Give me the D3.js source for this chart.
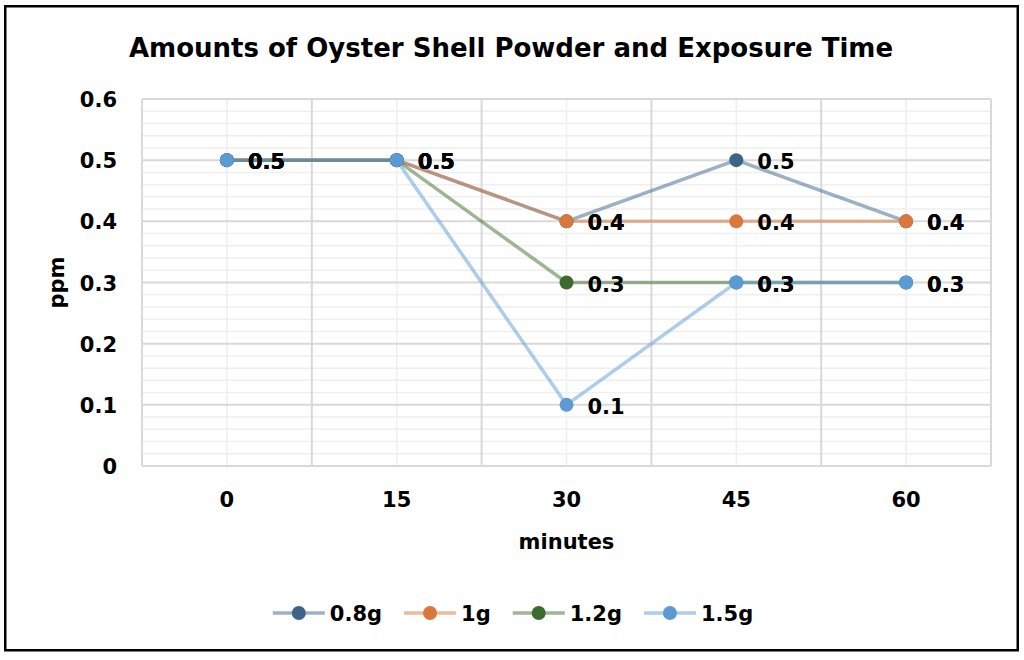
<!DOCTYPE html>
<html lang="en">
<head>
  <meta charset="UTF-8">
  <title>Amounts of Oyster Shell Powder and Exposure Time</title>
  <style>
    body { margin: 0; background: #fff; }
    svg text { font-family: "DejaVu Sans", "Liberation Sans", Arial, sans-serif; font-weight: bold; fill: #000; }
    .tick line { display: none; }
    .domain { display: none; }
  </style>
</head>
<body>
  <div class="warp"></div>
  <script src="https://cdn.jsdelivr.net/npm/d3@7"></script>
  <script>
    // data
    var minutes = ['0', '15', '30', '45', '60'];
    var seriesNames = ['0.8g', '1g', '1.2g', '1.5g'];
    var vals08 = [0.5, 0.5, 0.4, 0.5, 0.4];
    var vals1 = [0.5, 0.5, 0.4, 0.4, 0.4];
    var vals12 = [0.5, 0.5, 0.3, 0.3, 0.3];
    var vals15 = [0.5, 0.5, 0.1, 0.3, 0.3];
    var yTicks = [0, 0.1, 0.2, 0.3, 0.4, 0.5, 0.6];
    var colors = ['#3c6489', '#d9773d', '#3d6b2e', '#5b9bd5'];

    var series = seriesNames.map(function (name, i) {
      return { name: name, values: [vals08, vals1, vals12, vals15][i], color: colors[i] };
    });

    var W = 1024, H = 660;
    var plot = { left: 142, right: 991, top: 99, bottom: 466 };

    var svg = d3.select('.warp').append('svg')
      .attr('width', W)
      .attr('height', H);

    // outer frame
    svg.append('rect')
      .attr('x', 5.25).attr('y', 6.25)
      .attr('width', 1012.5).attr('height', 644)
      .attr('fill', '#fff')
      .attr('stroke', '#000')
      .attr('stroke-width', 2.5);

    var x = d3.scaleBand().domain(minutes).range([plot.left, plot.right]).padding(0);
    var y = d3.scaleLinear().domain([0, 0.6]).range([plot.bottom, plot.top]);
    var cx = function (m) { return x(m) + x.bandwidth() / 2; };

    // grid
    var grid = svg.append('g');
    var minor = d3.range(0, 0.6001, 0.02).filter(function (v) { return Math.abs(v * 10 - Math.round(v * 10)) > 1e-6; });
    grid.selectAll('line.hminor').data(minor).enter().append('line')
      .attr('x1', plot.left).attr('x2', plot.right)
      .attr('y1', d => y(d)).attr('y2', d => y(d))
      .attr('stroke', '#efefef').attr('stroke-width', 1.5);
    grid.selectAll('line.vminor').data(minutes).enter().append('line')
      .attr('x1', d => cx(d)).attr('x2', d => cx(d))
      .attr('y1', plot.top).attr('y2', plot.bottom)
      .attr('stroke', '#efefef').attr('stroke-width', 1.5);
    grid.selectAll('line.hmajor').data(yTicks).enter().append('line')
      .attr('x1', plot.left).attr('x2', plot.right)
      .attr('y1', d => y(d)).attr('y2', d => y(d))
      .attr('stroke', '#d9d9d9').attr('stroke-width', 2);
    var edges = minutes.map(function (m) { return x(m); }).concat([plot.right]);
    grid.selectAll('line.vmajor').data(edges).enter().append('line')
      .attr('x1', d => d).attr('x2', d => d)
      .attr('y1', plot.top).attr('y2', plot.bottom)
      .attr('stroke', '#d9d9d9').attr('stroke-width', 2);

    // axes
    svg.append('g')
      .attr('transform', 'translate(' + plot.left + ',0)')
      .call(d3.axisLeft(y).tickValues(yTicks).tickSize(0).tickPadding(25).tickFormat(d3.format('')))
      .selectAll('text')
      .style('font-size', '21px')
      .attr('dy', '0.36em');

    svg.append('g')
      .attr('transform', 'translate(0,' + plot.bottom + ')')
      .call(d3.axisBottom(x).tickSize(0).tickPadding(26))
      .selectAll('text')
      .style('font-size', '21px');

    // lines
    var line = d3.line()
      .x(function (d, i) { return cx(minutes[i]); })
      .y(function (d) { return y(d); });

    svg.append('g').selectAll('path').data(series).enter().append('path')
      .attr('d', d => line(d.values))
      .attr('fill', 'none')
      .attr('stroke', d => d.color)
      .attr('stroke-opacity', 0.5)
      .attr('stroke-width', 3.5);

    // markers + labels
    series.forEach(function (s) {
      svg.append('g').selectAll('circle').data(s.values).enter().append('circle')
        .attr('cx', (d, i) => cx(minutes[i]))
        .attr('cy', d => y(d))
        .attr('r', 7)
        .attr('fill', s.color);
    });
    series.forEach(function (s) {
      svg.append('g').selectAll('text').data(s.values).enter().append('text')
        .attr('x', (d, i) => cx(minutes[i]) + 21)
        .attr('y', d => y(d) + 9)
        .style('font-size', '21px')
        .text(d => d);
    });

    // title
    svg.append('text')
      .attr('x', 511).attr('y', 57)
      .attr('text-anchor', 'middle')
      .style('font-size', '26px')
      .text('Amounts of Oyster Shell Powder and Exposure Time');

    // axis titles
    svg.append('text')
      .attr('x', (plot.left + plot.right) / 2).attr('y', 549)
      .attr('text-anchor', 'middle')
      .style('font-size', '21px')
      .text('minutes');
    svg.append('text')
      .attr('transform', 'translate(64,' + ((plot.top + plot.bottom) / 2) + ') rotate(-90)')
      .attr('text-anchor', 'middle')
      .style('font-size', '21px')
      .text('ppm');

    // legend
    var legend = svg.append('g');
    var items = legend.selectAll('g').data(series).enter().append('g');
    items.append('line')
      .attr('x1', 0).attr('x2', 52).attr('y1', 0).attr('y2', 0)
      .attr('stroke', d => d.color).attr('stroke-opacity', 0.5).attr('stroke-width', 3.5);
    items.append('circle')
      .attr('cx', 26).attr('cy', 0).attr('r', 7)
      .attr('fill', d => d.color);
    items.append('text')
      .attr('x', 57).attr('y', 8)
      .style('font-size', '21px')
      .text(d => d.name);
    var pos = 0, offs = [];
    items.each(function () {
      offs.push(pos);
      pos += this.getBBox().width + 22;
    });
    var total = pos - 22;
    var startX = 513 - total / 2;
    items.attr('transform', (d, i) => 'translate(' + (startX + offs[i]) + ',613)');
  </script>
</body>
</html>
